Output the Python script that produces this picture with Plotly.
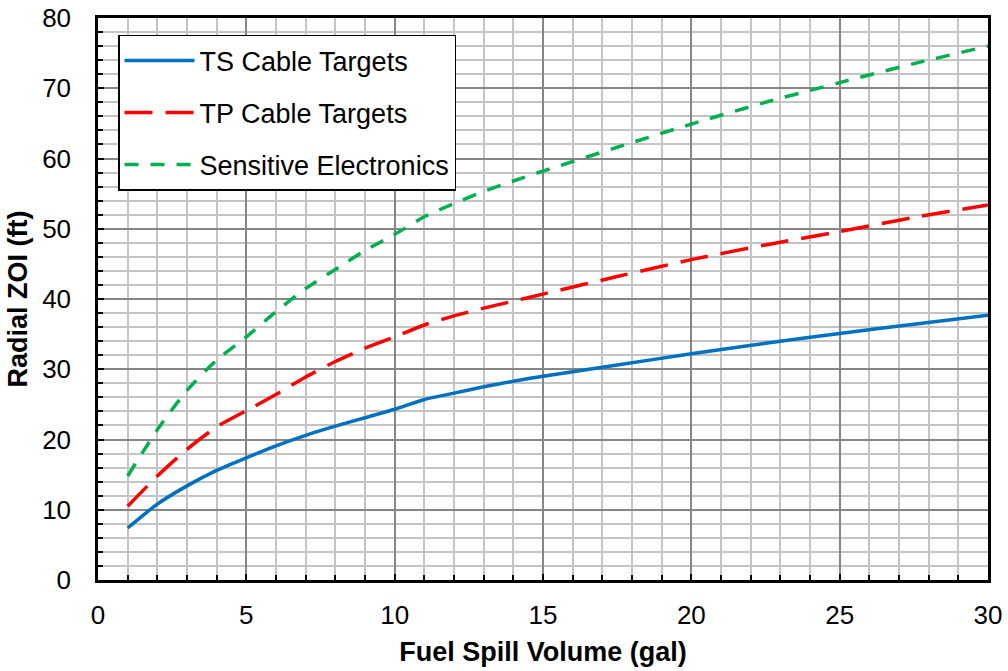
import plotly.graph_objects as go

volume = [1, 2, 3, 4, 5, 6, 7, 8, 9, 10, 11, 12, 13, 14, 15, 17.5, 20, 22.5, 25, 27.5, 30]
ts_cable = [7.4, 10.8, 13.4, 15.6, 17.4, 19.1, 20.6, 21.9, 23.1, 24.3, 25.7, 26.6, 27.5, 28.3, 29.0, 30.6, 32.2, 33.7, 35.1, 36.4, 37.7]
tp_cable = [10.5, 14.8, 18.6, 21.8, 24.1, 26.4, 28.9, 31.1, 33.0, 34.6, 36.3, 37.6, 38.7, 39.7, 40.7, 43.2, 45.6, 47.7, 49.6, 51.6, 53.4]
sens_elec = [14.8, 21.4, 27.0, 31.3, 34.6, 38.2, 41.5, 44.2, 46.9, 49.2, 51.7, 53.6, 55.3, 56.8, 58.2, 61.6, 64.9, 68.0, 70.8, 73.5, 76.0]

series = [
    ("TS Cable Targets", ts_cable, "#0070C0", "solid"),
    ("TP Cable Targets", tp_cable, "#FF0000", "28px,13px"),
    ("Sensitive Electronics", sens_elec, "#00B050", "14px,12px"),
]

fig = go.Figure()
for i, (name, vals, color, dash) in enumerate(series):
    fig.add_trace(go.Scatter(
        x=volume, y=vals, mode="lines", name=name, legendgroup=f"g{i}",
        line=dict(color=color, width=3.5, dash=dash, shape="spline", smoothing=0.6),
    ))

font = "Liberation Sans, Arial, sans-serif"
FS_TICK = 26
FS_TEXT = 27
fig.update_layout(
    width=1008, height=671,
    margin=dict(l=98, r=20, t=18, b=91),
    paper_bgcolor="white", plot_bgcolor="white",
    font=dict(family=font, size=FS_TICK, color="black"),
    showlegend=True,
    legend=dict(
        x=0.0225, y=0.97, xanchor="left", yanchor="top",
        bgcolor="white", bordercolor="black", borderwidth=1.5,
        font=dict(size=FS_TEXT), tracegroupgap=14, traceorder="grouped",
        itemwidth=70,
    ),
    xaxis=dict(
        range=[0, 30], dtick=5, tick0=0,
        showline=True, linecolor="black", linewidth=2.5, mirror=True,
        ticks="inside", ticklen=6, tickcolor="black", tickwidth=2,
        showgrid=True, gridcolor="#868686", gridwidth=1.5,
        minor=dict(dtick=1, showgrid=True, gridcolor="#C4C4C4", gridwidth=1.5,
                   ticks="inside", ticklen=5, tickcolor="black", tickwidth=2),
        zeroline=False, ticklabelstandoff=10,
        tickfont=dict(size=FS_TICK),
        title=dict(text="<b>Fuel Spill Volume (gal)</b>", font=dict(size=FS_TEXT), standoff=14),
        automargin=False,
    ),
    yaxis=dict(
        range=[0, 80], dtick=10, tick0=0,
        showline=True, linecolor="black", linewidth=2.5, mirror=True,
        ticks="inside", ticklen=6, tickcolor="black", tickwidth=2,
        showgrid=True, gridcolor="#868686", gridwidth=1.5,
        minor=dict(dtick=2, showgrid=True, gridcolor="#C4C4C4", gridwidth=1.5,
                   ticks="inside", ticklen=5, tickcolor="black", tickwidth=2),
        zeroline=False, ticklabelstandoff=19,
        tickfont=dict(size=FS_TICK),
        title=dict(text="<b>Radial ZOI (ft)</b>", font=dict(size=FS_TEXT), standoff=7),
        automargin=False,
    ),
)

fig.write_html("out.html")
